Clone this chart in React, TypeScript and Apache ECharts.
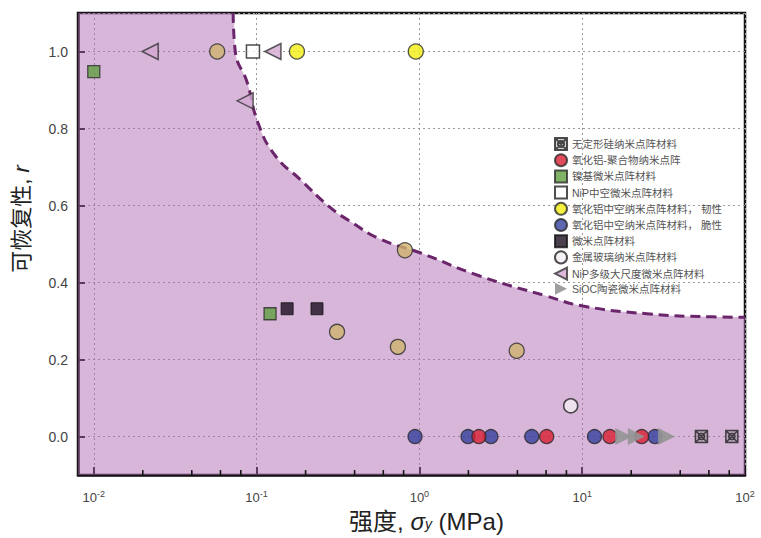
import React, { useEffect, useRef } from "react";
import * as echarts from "echarts";

// ---- data ----
const X_MIN = 0.008;
const X_MAX = 100;
const Y_MIN = -0.1;
const Y_MAX = 1.1;

const boundarySigma = [0.0718, 0.074, 0.0875, 0.102, 0.13, 0.185, 0.283, 0.373, 0.573, 1.0, 2.35, 6.05, 10.1, 25, 63, 100];
const boundaryR = [1.1, 1.0, 0.92, 0.815, 0.73, 0.668, 0.595, 0.56, 0.513, 0.478, 0.417, 0.365, 0.339, 0.319, 0.311, 0.31];

const amorphousSi = [[54, 0], [83, 0]];
const aluminaPolymer = [[2.32, 0], [6.05, 0], [14.8, 0], [23.2, 0]];
const nickelMicro = [[0.01, 0.948], [0.121, 0.319]];
const nipHollow = [[0.095, 1.0]];
const aluminaDuctile = [[0.177, 1.0], [0.95, 1.0]];
const aluminaDuctileShaded = [[0.0573, 1.0], [0.815, 0.484], [0.312, 0.272], [0.738, 0.233], [3.96, 0.223]];
const aluminaBrittle = [[0.94, 0], [1.99, 0], [2.75, 0], [4.9, 0], [11.9, 0], [28, 0]];
const microLattice = [[0.154, 0.332], [0.235, 0.332]];
const metallicGlass = [[8.5, 0.08]];
const nipMultiscale = [[0.0222, 1.0], [0.126, 1.0], [0.085, 0.872]];
const sioc = [[18, 0], [21.5, 0], [33, 0]];

const minorTickValues = [0.02, 0.04, 0.06, 0.08, 0.2, 0.4, 0.6, 0.8, 2, 4, 6, 8, 20, 40, 60, 80];

const legendNames = [
  "无定形硅纳米点阵材料",
  "氧化铝-聚合物纳米点阵",
  "镍基微米点阵材料",
  "NiP中空微米点阵材料",
  "氧化铝中空纳米点阵材料， 韧性",
  "氧化铝中空纳米点阵材料， 脆性",
  "微米点阵材料",
  "金属玻璃纳米点阵材料",
  "NiP多级大尺度微米点阵材料",
  "SiOC陶瓷微米点阵材料",
];

const xAxisTitle = "强度, {s|σ}{sub|y} (MPa)";
const yAxisTitle = "可恢复性, {i|r}";

const FONT = '"Liberation Sans", Arial, "Noto Sans CJK SC", sans-serif';

const CROSS_BOX =
  "path://M0,0 L10,0 L10,10 L0,10 Z M0,0 L10,10 M10,0 L0,10 M7.5,5 A2.5,2.5 0 1 1 2.5,5 A2.5,2.5 0 1 1 7.5,5";
const TRI_LEFT = "path://M0,5 L10,0 L10,10 Z";
const TRI_RIGHT = "path://M10,5 L0,0 L0,10 Z";

export default function App() {
  const ref = useRef<HTMLDivElement>(null);

  useEffect(() => {
    if (!ref.current) return;
    const chart = echarts.init(ref.current, undefined, { renderer: "svg" });
    const boundary = boundarySigma.map((s, i) => [s, boundaryR[i]]);
    const border = { borderColor: "#2a2a2a", borderWidth: 1.3 };

    const option: any = {
      animation: false,
      textStyle: { fontFamily: FONT },
      grid: {
        left: 78,
        right: 16,
        top: 13,
        bottom: 61,
        show: true,
        borderColor: "#151515",
        borderWidth: 2.5,
        backgroundColor: "transparent",
      },
      legend: {
        data: legendNames,
        orient: "vertical",
        left: 549,
        top: 132,
        itemWidth: 12,
        itemHeight: 12,
        itemGap: 2.2,
        textStyle: { fontSize: 10.5, color: "#555", fontFamily: FONT },
        selectedMode: false,
      },
      xAxis: {
        type: "log",
        logBase: 10,
        min: X_MIN,
        max: X_MAX,
        axisLine: { onZero: false, lineStyle: { color: "#151515", width: 2.5 } },
        axisTick: { inside: true, length: 8, lineStyle: { color: "#151515", width: 2 } },
        axisLabel: {
          showMinLabel: false,
          margin: 14,
          color: "#444",
          formatter: (v: number) => {
            const e = Math.round(Math.log10(v));
            return "10{sup|" + e + "}";
          },
          rich: {
            sup: { fontSize: 9, color: "#444", padding: [0, 0, 8, 0], fontFamily: FONT },
          },
          fontSize: 13,
          fontFamily: FONT,
        },
        splitLine: { show: true, lineStyle: { color: "#9a9a9a", type: [2, 3], width: 1 } },
        name: xAxisTitle,
        nameLocation: "middle",
        nameGap: 31,
        nameTextStyle: {
          fontSize: 24,
          color: "#222",
          fontFamily: FONT,
          padding: [0, 0, 0, 30],
          rich: {
            s: { fontSize: 24, fontStyle: "italic", color: "#222", fontFamily: FONT },
            sub: { fontSize: 14, fontStyle: "italic", color: "#222", padding: [0, 0, -7, 0], fontFamily: FONT },
          },
        },
      },
      yAxis: {
        type: "value",
        min: Y_MIN,
        max: Y_MAX,
        splitNumber: 6,
        axisLine: { show: true, onZero: false, lineStyle: { color: "#151515", width: 2.5 } },
        axisTick: { show: true, inside: true, length: 7, lineStyle: { color: "#151515", width: 2 } },
        axisLabel: {
          showMinLabel: false,
          showMaxLabel: false,
          margin: 10,
          fontSize: 14,
          color: "#444",
          fontFamily: FONT,
          formatter: (v: number) => v.toFixed(1),
        },
        splitLine: { show: true, lineStyle: { color: "#9a9a9a", type: [2, 3], width: 1 } },
        name: yAxisTitle,
        nameLocation: "middle",
        nameGap: 46,
        nameRotate: 90,
        nameTextStyle: {
          fontSize: 22,
          color: "#222",
          fontFamily: FONT,
          padding: [0, 0, 0, 50],
          rich: {
            i: { fontSize: 22, fontStyle: "italic", color: "#222", fontFamily: FONT },
          },
        },
      },
      series: [
        {
          type: "line",
          name: "_area",
          data: [[X_MIN, Y_MAX], ...boundary],
          smooth: 0.5,
          symbol: "none",
          lineStyle: { width: 0 },
          areaStyle: { color: "rgba(172,102,176,0.48)", opacity: 1, origin: "start" },
          silent: true,
          z: 1,
        },
        {
          type: "line",
          name: "_curve",
          data: boundary,
          smooth: 0.5,
          symbol: "none",
          lineStyle: { color: "#6b256b", width: 3, type: [10, 6] },
          silent: true,
          z: 3,
        },
        {
          type: "custom",
          name: "_minor",
          silent: true,
          data: minorTickValues.map((v) => [v, Y_MIN]),
          encode: { x: 0, y: 1 },
          renderItem: (params: any, api: any) => {
            const p = api.coord([api.value(0), Y_MIN]);
            return {
              type: "line",
              shape: { x1: p[0], y1: p[1], x2: p[0], y2: p[1] - 5 },
              style: { stroke: "#151515", lineWidth: 1.6 },
            };
          },
          z: 4,
        },
        {
          type: "scatter",
          name: legendNames[5],
          data: aluminaBrittle,
          symbol: "circle",
          symbolSize: 14,
          itemStyle: { color: "#34409c", ...border },
          z: 5,
        },
        {
          type: "scatter",
          name: legendNames[1],
          data: aluminaPolymer,
          symbol: "circle",
          symbolSize: 14,
          itemStyle: { color: "#d91f32", ...border },
          z: 6,
        },
        {
          type: "scatter",
          name: legendNames[9],
          data: sioc,
          symbol: TRI_RIGHT,
          symbolSize: 17,
          itemStyle: { color: "#959595", opacity: 0.9 },
          z: 7,
        },
        {
          type: "scatter",
          name: legendNames[0],
          data: amorphousSi,
          symbol: CROSS_BOX,
          symbolSize: 12,
          itemStyle: { color: "rgba(120,120,120,0.4)", borderColor: "#222", borderWidth: 1.5 },
          z: 6,
        },
        {
          type: "scatter",
          name: legendNames[2],
          data: nickelMicro,
          symbol: "rect",
          symbolSize: 12,
          itemStyle: { color: "#62a040", ...border },
          z: 6,
        },
        {
          type: "scatter",
          name: legendNames[3],
          data: nipHollow,
          symbol: "rect",
          symbolSize: 13,
          itemStyle: { color: "#ffffff", borderColor: "#222", borderWidth: 1.5 },
          z: 6,
        },
        {
          type: "scatter",
          name: legendNames[4],
          data: aluminaDuctile,
          symbol: "circle",
          symbolSize: 15,
          itemStyle: { color: "#f2ee10", ...border },
          z: 6,
        },
        {
          type: "scatter",
          name: legendNames[4],
          data: aluminaDuctileShaded,
          symbol: "circle",
          symbolSize: 15,
          itemStyle: { color: "#cfb46e", ...border },
          z: 6,
        },
        {
          type: "scatter",
          name: legendNames[6],
          data: microLattice,
          symbol: "rect",
          symbolSize: 12,
          itemStyle: { color: "#1d1020", borderColor: "#111", borderWidth: 1 },
          z: 6,
        },
        {
          type: "scatter",
          name: legendNames[7],
          data: metallicGlass,
          symbol: "circle",
          symbolSize: 14,
          itemStyle: { color: "#f4eef4", borderColor: "#222", borderWidth: 1.6 },
          z: 6,
        },
        {
          type: "scatter",
          name: legendNames[8],
          data: nipMultiscale,
          symbol: TRI_LEFT,
          symbolSize: 16,
          itemStyle: { color: "#d5a9d3", borderColor: "#333", borderWidth: 1.5 },
          z: 6,
        },
      ],
    };

    chart.setOption(option);
    return () => chart.dispose();
  }, []);

  return <div ref={ref} style={{ width: 761, height: 538, position: "absolute", left: 0, top: 0 }} />;
}
